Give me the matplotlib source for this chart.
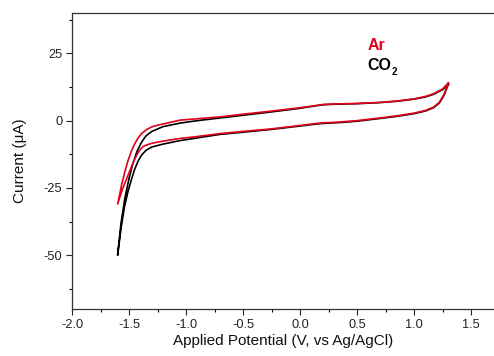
import numpy as np
import matplotlib
matplotlib.use("Agg")
import matplotlib.pyplot as plt
from matplotlib.ticker import MultipleLocator

plt.rcParams['font.family'] = ['Liberation Sans', 'DejaVu Sans']
plt.rcParams['axes.unicode_minus'] = False

# Ar scan: upper branch (1.3 V -> -1.6 V), then lower branch back
ar_up_x = [1.30, 1.25, 1.17, 1.10, 1.00, 0.85, 0.70, 0.50, 0.30, 0.20, 0.00, -0.26, -0.50, -0.70,
           -0.90, -1.05, -1.23, -1.30, -1.345, -1.39, -1.42, -1.45, -1.48, -1.51, -1.535, -1.564, -1.60]
ar_up_y = [14.0, 11.8, 10.0, 9.0, 8.1, 7.3, 6.8, 6.4, 6.2, 6.0, 4.8, 3.5, 2.4, 1.4,
           0.7, 0.2, -1.5, -2.3, -3.3, -4.8, -6.4, -8.6, -11.4, -15.0, -18.8, -23.7, -31.0]
ar_dn_x = [-1.60, -1.555, -1.52, -1.49, -1.46, -1.43, -1.40, -1.375, -1.33, -1.287, -1.20, -1.05, -0.90,
           -0.70, -0.50, -0.26, 0.00, 0.175, 0.35, 0.50, 0.70, 0.85, 1.00, 1.10, 1.17, 1.22, 1.26, 1.30]
ar_dn_y = [-31.0, -25.2, -21.5, -18.3, -15.2, -12.6, -10.6, -9.6, -8.8, -8.3, -7.6, -6.6, -5.9,
           -4.8, -4.0, -3.1, -1.8, -0.9, -0.5, 0.0, 1.0, 1.8, 2.8, 3.8, 5.0, 6.8, 9.6, 14.0]

# CO2 scan
co2_up_x = [1.30, 1.25, 1.17, 1.10, 1.00, 0.85, 0.70, 0.50, 0.30, 0.20, 0.00, -0.26, -0.50, -0.70,
            -0.90, -1.05, -1.20, -1.30, -1.35, -1.39, -1.43, -1.47, -1.50, -1.535, -1.57, -1.60]
co2_up_y = [13.5, 11.5, 9.8, 8.8, 8.0, 7.2, 6.7, 6.3, 6.1, 5.9, 4.6, 3.2, 2.0, 1.0,
            0.0, -0.9, -2.2, -4.0, -5.6, -8.0, -11.4, -16.5, -21.5, -28.5, -38.0, -50.0]
co2_dn_x = [-1.60, -1.57, -1.54, -1.51, -1.48, -1.45, -1.42, -1.39, -1.35, -1.30, -1.20, -1.05, -0.90,
            -0.70, -0.50, -0.26, 0.00, 0.175, 0.35, 0.50, 0.70, 0.85, 1.00, 1.10, 1.17, 1.22, 1.26, 1.30]
co2_dn_y = [-50.0, -40.0, -32.0, -26.5, -22.0, -18.0, -15.0, -12.8, -11.0, -9.8, -8.7, -7.4, -6.4,
            -5.1, -4.3, -3.3, -2.0, -1.1, -0.7, -0.2, 0.8, 1.6, 2.6, 3.6, 4.8, 6.5, 9.3, 13.5]

fig = plt.figure(figsize=(4.94, 3.56), dpi=100)
ax = fig.add_axes([72/494, 47/356, 422/494, 296/356])

ax.plot(co2_up_x + co2_dn_x[1:], co2_up_y + co2_dn_y[1:], color='black', lw=1.2)
ax.plot(ar_up_x + ar_dn_x[1:], ar_up_y + ar_dn_y[1:], color='#e3001b', lw=1.2)

ax.set_xlim(-2.0, 1.70)
ax.set_ylim(-70, 40)
ax.xaxis.set_major_locator(MultipleLocator(0.5))
ax.xaxis.set_minor_locator(MultipleLocator(0.25))
ax.yaxis.set_major_locator(MultipleLocator(25))
ax.yaxis.set_minor_locator(MultipleLocator(12.5))
ax.tick_params(which='major', direction='out', length=4, width=0.8, labelsize=9.2,
               colors='#222222', pad=3)
ax.tick_params(which='minor', direction='out', length=2.5, width=0.8)
ax.spines['right'].set_visible(False)
for s in ['left', 'bottom', 'top']:
    ax.spines[s].set_color('#333333')
    ax.spines[s].set_linewidth(0.9)

ax.set_xlabel('Applied Potential (V, vs Ag/AgCl)', fontsize=11, labelpad=2, color='#111111')
ax.set_ylabel('Current (\u03bcA)', fontsize=11, labelpad=12, color='#111111')

ax.text(0.59, 27.8, 'Ar', color='#e3001b', fontsize=11.5, fontweight='bold', va='center')
t = ax.text(0.59, 20.4, 'CO', color='black', fontsize=11.5, fontweight='bold', va='center')
ax.annotate('2', xy=(1, 0), xycoords=t, xytext=(0.5, -1.5), textcoords='offset points',
            fontsize=7, fontweight='bold', va='baseline', ha='left')

fig.savefig('out.png', dpi=100)
